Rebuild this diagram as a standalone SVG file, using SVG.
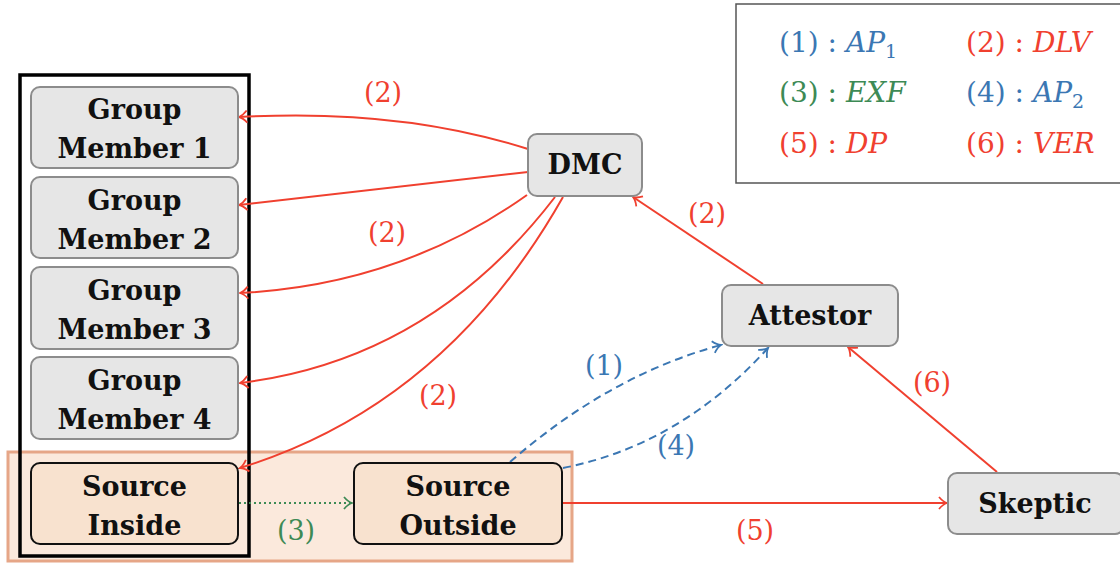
<svg xmlns="http://www.w3.org/2000/svg" width="1120" height="563" viewBox="0 0 1120 563">
  <defs>
    <style>
      .node { fill: #e6e6e6; stroke: #8c8c8c; stroke-width: 2; }
      .src { fill: #f8e2cf; stroke: #111; stroke-width: 2; }
      .lbl { font-family: 'DejaVu Serif', serif; font-weight: bold; font-size: 27px; fill: #111; text-anchor: middle; }
      .num { font-family: 'DejaVu Serif', serif; font-size: 27px; text-anchor: middle; }
      .leg { font-family: 'DejaVu Serif', serif; font-size: 28px; }
      .it { font-style: italic; }
      .red { fill: #f0402f; }
      .blue { fill: #3b77b3; }
      .green { fill: #3d8a55; }
      .er { fill: none; stroke: #f0402f; stroke-width: 2; }
      .eb { fill: none; stroke: #3b77b3; stroke-width: 2; stroke-dasharray: 8 5; }
      .eg { fill: none; stroke: #3d8a55; stroke-width: 2; stroke-dasharray: 2 3; }
    </style>
    <marker id="ar" viewBox="-10 -8 12 16" refX="0" refY="0" markerWidth="12" markerHeight="16" markerUnits="userSpaceOnUse" orient="auto">
      <path d="M -8 -6 C -5 -2.5 -2 -0.6 0 0 C -2 0.6 -5 2.5 -8 6" fill="none" stroke="#f0402f" stroke-width="1.8"/>
    </marker>
    <marker id="ab" viewBox="-10 -8 12 16" refX="0" refY="0" markerWidth="12" markerHeight="16" markerUnits="userSpaceOnUse" orient="auto">
      <path d="M -8 -6 C -5 -2.5 -2 -0.6 0 0 C -2 0.6 -5 2.5 -8 6" fill="none" stroke="#3b77b3" stroke-width="1.8"/>
    </marker>
    <marker id="ag" viewBox="-10 -8 12 16" refX="0" refY="0" markerWidth="12" markerHeight="16" markerUnits="userSpaceOnUse" orient="auto">
      <path d="M -8 -6 C -5 -2.5 -2 -0.6 0 0 C -2 0.6 -5 2.5 -8 6" fill="none" stroke="#3d8a55" stroke-width="1.8"/>
    </marker>
  </defs>

  <rect width="1120" height="563" fill="#fff"/>

  <!-- source region and group frame -->
  <g id="source-region">
    <rect x="8" y="452" width="564" height="109" fill="#fbe9dc" stroke="#e6a687" stroke-width="3"/>
  </g>
  <g id="group-frame">
    <rect x="20" y="75" width="229" height="481" fill="none" stroke="#000" stroke-width="3.5"/>
  </g>

  <!-- legend -->
  <g id="legend">
    <rect x="736" y="4" width="400" height="179" fill="#fff" stroke="#555" stroke-width="1.5"/>
    <text class="leg blue" x="779" y="52">(1) : <tspan class="it">AP</tspan><tspan font-size="19" dy="6">1</tspan></text>
    <text class="leg red" x="966" y="52">(2) : <tspan class="it">DLV</tspan></text>
    <text class="leg green" x="779" y="102">(3) : <tspan class="it">EXF</tspan></text>
    <text class="leg blue" x="966" y="102">(4) : <tspan class="it">AP</tspan><tspan font-size="19" dy="6">2</tspan></text>
    <text class="leg red" x="779" y="153">(5) : <tspan class="it">DP</tspan></text>
    <text class="leg red" x="966" y="153">(6) : <tspan class="it">VER</tspan></text>
  </g>

  <!-- connectors -->
  <g id="connectors">
    <path class="er" d="M528,149 Q400,108 239,117" marker-end="url(#ar)"/>
    <path class="er" d="M528,172 L239,205" marker-end="url(#ar)"/>
    <path class="er" d="M527,195 Q400,285 240,293" marker-end="url(#ar)"/>
    <path class="er" d="M555,197 Q430,360 240,383" marker-end="url(#ar)"/>
    <path class="er" d="M563,197 Q445,405 240,468" marker-end="url(#ar)"/>
    <path class="er" d="M763,284 L633,197" marker-end="url(#ar)"/>
    <path class="er" d="M997,472 L848,347" marker-end="url(#ar)"/>
    <path class="er" d="M562,503 L947,503" marker-end="url(#ar)"/>
    <path class="eg" d="M239,503 L352,503" marker-end="url(#ag)"/>
    <path class="eb" d="M510,462 Q610,375 721,345" marker-end="url(#ab)"/>
    <path class="eb" d="M563,468 Q680,445 768,348" marker-end="url(#ab)"/>

    <text class="num red" x="383" y="102">(2)</text>
    <text class="num red" x="387" y="242">(2)</text>
    <text class="num red" x="438" y="405">(2)</text>
    <text class="num red" x="707" y="223">(2)</text>
    <text class="num blue" x="604" y="375">(1)</text>
    <text class="num blue" x="676" y="455">(4)</text>
    <text class="num green" x="296" y="540">(3)</text>
    <text class="num red" x="755" y="540">(5)</text>
    <text class="num red" x="932" y="392">(6)</text>
  </g>

  <!-- nodes -->
  <g id="group-member-1">
    <rect class="node" x="31" y="87" width="207" height="81" rx="9"/>
    <text class="lbl" x="134.5" y="119">Group</text>
    <text class="lbl" x="134.5" y="158">Member 1</text>
  </g>
  <g id="group-member-2">
    <rect class="node" x="31" y="177" width="207" height="81" rx="9"/>
    <text class="lbl" x="134.5" y="210">Group</text>
    <text class="lbl" x="134.5" y="249">Member 2</text>
  </g>
  <g id="group-member-3">
    <rect class="node" x="31" y="267" width="207" height="82" rx="9"/>
    <text class="lbl" x="134.5" y="300">Group</text>
    <text class="lbl" x="134.5" y="339">Member 3</text>
  </g>
  <g id="group-member-4">
    <rect class="node" x="31" y="357" width="207" height="82" rx="9"/>
    <text class="lbl" x="134.5" y="390">Group</text>
    <text class="lbl" x="134.5" y="429">Member 4</text>
  </g>
  <g id="source-inside">
    <rect class="src" x="31" y="463" width="207" height="81" rx="9"/>
    <text class="lbl" x="134.5" y="496">Source</text>
    <text class="lbl" x="134.5" y="535">Inside</text>
  </g>
  <g id="source-outside">
    <rect class="src" x="354" y="463" width="208" height="81" rx="9"/>
    <text class="lbl" x="458" y="496">Source</text>
    <text class="lbl" x="458" y="535">Outside</text>
  </g>
  <g id="dmc">
    <rect class="node" x="528" y="134" width="114" height="62" rx="9"/>
    <text class="lbl" x="585" y="174">DMC</text>
  </g>
  <g id="attestor">
    <rect class="node" x="722" y="285" width="176" height="61" rx="9"/>
    <text class="lbl" x="810" y="325">Attestor</text>
  </g>
  <g id="skeptic">
    <rect class="node" x="948" y="473" width="176" height="61" rx="9"/>
    <text class="lbl" x="1035" y="513">Skeptic</text>
  </g>
</svg>
